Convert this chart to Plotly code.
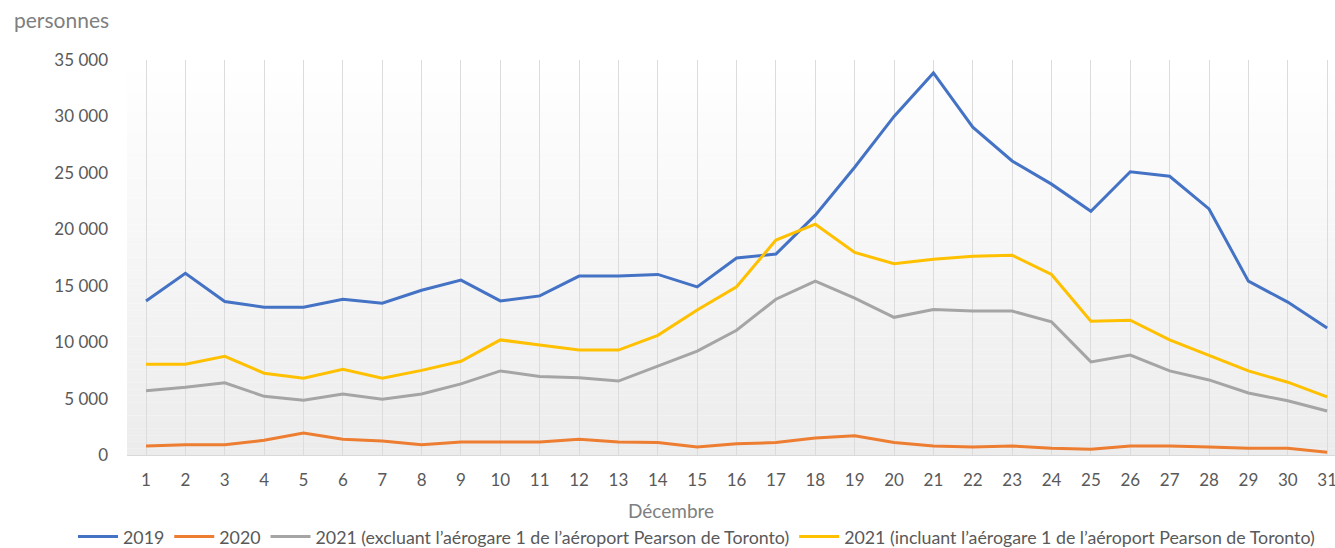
import plotly.graph_objects as go

days = list(range(1, 32))
tick_labels = [str(d) for d in days]

v2019 = [13650, 16100, 13600, 13100, 13100, 13800, 13450, 14600, 15500, 13650,
         14100, 15850, 15850, 16000, 14900, 17450, 17800, 21250, 25500, 30000,
         33850, 29050, 26050, 24000, 21600, 25100, 24700, 21800, 15400, 13550, 11250]
v2020 = [800, 900, 900, 1300, 1950, 1400, 1250, 900, 1150, 1150,
         1150, 1400, 1150, 1100, 700, 1000, 1100, 1500, 1700, 1100,
         800, 700, 800, 600, 500, 800, 800, 700, 600, 600, 250]
v2021_excl = [5700, 6000, 6400, 5200, 4850, 5400, 4950, 5400, 6300, 7450,
              6950, 6850, 6550, 7900, 9200, 11050, 13800, 15400, 13900, 12200,
              12900, 12750, 12750, 11800, 8250, 8850, 7450, 6650, 5500, 4800, 3900]
v2021_incl = [8050, 8050, 8750, 7250, 6800, 7600, 6800, 7500, 8300, 10200,
              9750, 9300, 9300, 10600, 12850, 14900, 19050, 20450, 17950, 16950,
              17350, 17600, 17700, 16000, 11850, 11950, 10200, 8850, 7450, 6450, 5150]

series_names = [
    "2019",
    "2020",
    "2021 (excluant l\u2019aérogare 1 de l\u2019aéroport Pearson de Toronto)",
    "2021 (incluant l\u2019aérogare 1 de l\u2019aéroport Pearson de Toronto)",
]
series_values = [v2019, v2020, v2021_excl, v2021_incl]
colors = ["#4472C4", "#ED7D31", "#A5A5A5", "#FFC000"]

y_ticks = [0, 5000, 10000, 15000, 20000, 25000, 30000, 35000]

FONT = "Lato"
fig = go.Figure()
for name, vals, c in zip(series_names, series_values, colors):
    fig.add_trace(go.Scatter(x=days, y=vals, mode="lines", name=name,
                             line=dict(color=c, width=3)))

# gradient background of the plot area
n = 60
shapes = []
for i in range(n):
    t = i / (n - 1)
    g = round(255 - (255 - 236) * t)
    col = f"rgb({g},{g},{g})"
    shapes.append(dict(type="rect", xref="paper", yref="paper",
                       x0=0, x1=1, y0=1 - (i + 1) / n, y1=1 - i / n,
                       fillcolor=col, line=dict(width=0), layer="below"))

PW, PH = 1208, 395
fig.update_layout(
    width=1335, height=548,
    margin=dict(l=127, r=0, t=60, b=93, autoexpand=False),
    paper_bgcolor="white", plot_bgcolor="white",
    separators=", ",
    font=dict(family=FONT, color="#595959", size=16),
    shapes=shapes,
    showlegend=True,
    legend=dict(orientation="h", x=(73 - 127) / PW, xanchor="left",
                y=-(537 - 455) / PH, yanchor="middle",
                font=dict(size=17.8, color="#595959"), itemwidth=40,
                tracegroupgap=0),
    annotations=[
        dict(text="personnes", xref="paper", yref="paper",
             x=(12 - 127) / PW, y=(455 - 20) / PH,
             xanchor="left", yanchor="middle", showarrow=False,
             font=dict(size=21, color="#7f7f7f", family=FONT)),
        dict(text="Décembre", xref="paper", yref="paper",
             x=(671 - 127) / PW, y=-(510 - 455) / PH,
             xanchor="center", yanchor="middle", showarrow=False,
             font=dict(size=19, color="#808080", family=FONT)),
    ],
)
fig.update_xaxes(
    range=[0.517, 31.2], tickvals=days, ticktext=tick_labels,
    automargin=False, ticklabeloverflow="allow",
    showgrid=True, gridcolor="#dcdcdc", gridwidth=1,
    showline=True, linecolor="#d9d9d9", linewidth=1,
    zeroline=False, ticks="", ticklabelstandoff=10,
    tickfont=dict(size=17, color="#595959"),
)
fig.update_yaxes(
    range=[0, 35000], tickvals=y_ticks, tickformat=",d",
    automargin=False,
    showgrid=False, zeroline=False, showline=False, ticks="",
    ticklabelstandoff=18,
    tickfont=dict(size=17, color="#595959"),
)

fig.write_html("out.html", config={"displayModeBar": False},
               post_script="document.body.style.margin='0';"
                           "document.body.style.overflow='hidden';")
